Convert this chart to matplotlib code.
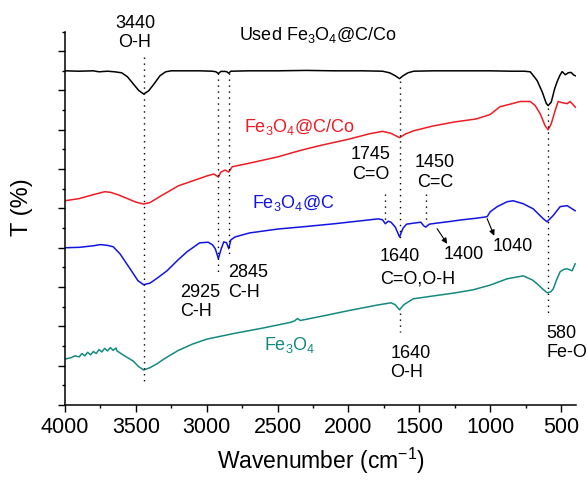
import matplotlib.pyplot as plt
from matplotlib.ticker import MultipleLocator

plt.rcParams['font.family'] = ['Liberation Sans', 'DejaVu Sans']
plt.rcParams['mathtext.fontset'] = 'custom'
plt.rcParams['mathtext.rm'] = 'Liberation Sans'
plt.rcParams['mathtext.it'] = 'Liberation Sans:italic'
plt.rcParams['mathtext.default'] = 'regular'

# Data (wavenumber in cm-1, transmittance with vertical offsets, arbitrary units)
wn_used = [4000, 3900, 3800, 3760, 3700, 3650, 3600, 3560, 3520, 3480,
           3445, 3410, 3370, 3330, 3290, 3250, 3150, 3050, 2960, 2935,
           2918, 2900, 2870, 2858, 2845, 2830, 2700, 2500, 2300, 2100,
           1900, 1760, 1710, 1670, 1640, 1615, 1580, 1540, 1400, 1200,
           1000, 850, 760, 718, 690, 669, 634, 605, 592, 570,
           545, 528, 510, 493, 470, 450, 430, 410, 400]
t_used = [17.0, 16.98, 17.0, 16.95, 16.98, 16.95, 16.9, 16.7, 16.35, 16.0,
          15.82, 15.98, 16.35, 16.75, 16.95, 17.0, 17.0, 17.0, 16.98, 16.95,
          16.86, 16.97, 16.97, 16.95, 16.88, 16.98, 17.0, 17.0, 17.02, 17.0,
          17.0, 16.98, 16.9, 16.75, 16.6, 16.75, 16.9, 16.98, 17.0, 17.0,
          17.0, 16.98, 16.98, 16.95, 16.7, 16.5, 15.94, 15.35, 15.23, 15.4,
          16.1, 16.45, 16.75, 16.96, 16.8, 16.9, 16.92, 16.78, 16.75]

wn_cco = [4000, 3900, 3800, 3720, 3680, 3620, 3560, 3500, 3445, 3400,
          3320, 3200, 3100, 3000, 2950, 2918, 2900, 2870, 2845, 2820,
          2700, 2500, 2345, 2200, 2000, 1850, 1760, 1700, 1640, 1600,
          1540, 1400, 1250, 1100, 1000, 930, 860, 789, 718, 683,
          648, 613, 592, 570, 542, 521, 493, 457, 436, 400]
t_cco = [10.39, 10.5, 10.7, 10.85, 10.82, 10.68, 10.5, 10.32, 10.22, 10.3,
         10.65, 11.15, 11.4, 11.65, 11.75, 11.6, 11.85, 11.95, 11.85, 12.12,
         12.3, 12.62, 12.94, 13.2, 13.52, 13.8, 13.92, 13.82, 13.6, 13.78,
         13.95, 14.2, 14.4, 14.55, 14.78, 15.18, 15.3, 15.44, 15.44, 15.23,
         14.82, 14.21, 14.0, 14.3, 14.98, 15.44, 15.38, 15.33, 15.44, 15.15]

wn_c = [4000, 3900, 3800, 3750, 3700, 3660, 3612, 3541, 3485, 3445,
        3400, 3350, 3280, 3200, 3140, 3050, 2990, 2960, 2940, 2918,
        2900, 2880, 2860, 2845, 2830, 2800, 2700, 2500, 2300, 2100,
        1900, 1790, 1760, 1740, 1720, 1700, 1670, 1640, 1615, 1590,
        1540, 1490, 1470, 1455, 1430, 1380, 1300, 1200, 1100, 1050,
        1022, 1000, 951, 881, 839, 768, 697, 627, 599, 557,
        507, 457, 401]
t_c = [8.0, 8.02, 8.1, 8.16, 8.12, 8.05, 7.69, 6.93, 6.32, 6.12,
       6.2, 6.45, 6.83, 7.4, 7.79, 8.25, 8.28, 8.15, 7.95, 7.45,
       7.9, 8.3, 8.25, 7.95, 8.4, 8.55, 8.75, 8.95, 9.08, 9.22,
       9.38, 9.47, 9.42, 9.22, 9.35, 9.3, 9.05, 8.55, 9.0, 9.2,
       9.25, 9.3, 9.12, 9.05, 9.2, 9.25, 9.32, 9.42, 9.5, 9.55,
       9.58, 9.83, 10.09, 10.34, 10.39, 10.24, 9.98, 9.48, 9.32, 9.63,
       10.09, 10.14, 9.88]

wn_fe = [4000, 3960, 3930, 3900, 3880, 3860, 3840, 3820, 3800, 3780,
         3760, 3740, 3720, 3700, 3680, 3660, 3640, 3633, 3580, 3520,
         3480, 3445, 3400, 3350, 3300, 3200, 3100, 3000, 2800, 2600,
         2412, 2380, 2360, 2340, 2200, 2000, 1800, 1700, 1670, 1640,
         1610, 1544, 1400, 1250, 1121, 1000, 881, 767, 700, 669,
         630, 599, 575, 556, 530, 507, 480, 457, 440, 422,
         401]
t_fe = [2.34, 2.4, 2.5, 2.45, 2.62, 2.5, 2.68, 2.55, 2.72, 2.62,
        2.82, 2.7, 2.88, 2.75, 2.92, 2.78, 2.9, 2.75, 2.5, 2.24,
        1.95, 1.78, 1.9, 2.1, 2.35, 2.78, 3.1, 3.35, 3.65, 3.92,
        4.2, 4.28, 4.4, 4.3, 4.5, 4.8, 5.08, 5.2, 5.1, 4.84,
        5.1, 5.4, 5.55, 5.7, 5.86, 6.1, 6.42, 6.57, 6.35, 6.16,
        5.9, 5.71, 5.75, 5.9, 6.4, 6.78, 6.9, 6.93, 6.88, 6.83,
        7.18]

black = 'black'
red = '#ec1c24'
blue = '#1414e0'
teal = '#14897f'

fig = plt.figure(figsize=(5.87, 4.85), dpi=100)
ax = fig.add_axes([65 / 587, 79 / 485, 511 / 587, 373.5 / 485])

ax.plot(wn_used, t_used, color=black, lw=1.1)
ax.plot(wn_cco, t_cco, color=red, lw=1.1)
ax.plot(wn_c, t_c, color=blue, lw=1.1)
ax.plot(wn_fe, t_fe, color=teal, lw=1.1)

# dotted guide lines
dot = dict(color='black', lw=1.0, ls=(0, (1, 3.3)))
ax.plot([3445, 3445], [17.68, 1.17], **dot)
ax.plot([2918, 2918], [16.9, 6.6], **dot)
ax.plot([2845, 2845], [16.9, 7.7], **dot)
ax.plot([1640, 1640], [16.5, 8.45], **dot)
ax.plot([1640, 1640], [4.7, 3.72], **dot)
ax.plot([592, 592], [15.1, 4.48], **dot)
ax.plot([1740, 1740], [10.75, 9.37], **dot)
ax.plot([1455, 1455], [10.75, 9.22], **dot)

arr = dict(arrowstyle='-|>', color='black', lw=0.8, mutation_scale=8,
           shrinkA=0, shrinkB=0)
ax.annotate('', xy=(1304, 8.2), xytext=(1375, 8.97), arrowprops=arr)
ax.annotate('', xy=(972, 8.61), xytext=(1022, 9.48), arrowprops=arr)

fs = 13
ax.text(3506, 18.98, '3440\nO-H', ha='center', va='center', fontsize=fs)
ax.text(2215, 18.85, 'Used Fe$_3$O$_4$@C/Co', ha='center', va='center', fontsize=fs)
ax.text(2349, 14.2, 'Fe$_3$O$_4$@C/Co', ha='center', va='center', fontsize=fs, color=red)
ax.text(1841, 12.28, '1745\nC=O', ha='center', va='center', fontsize=fs)
ax.text(1389, 11.87, '1450\nC=C', ha='center', va='center', fontsize=fs)
ax.text(2391, 10.34, 'Fe$_3$O$_4$@C', ha='center', va='center', fontsize=fs, color=blue)
ax.text(3188, 5.3, '2925\nC-H', ha='left', va='center', fontsize=fs)
ax.text(2850, 6.27, '2845\nC-H', ha='left', va='center', fontsize=fs)
ax.text(1777, 7.6, '1640', ha='left', va='center', fontsize=fs)
ax.text(1777, 6.45, 'C=O,O-H', ha='left', va='center', fontsize=fs)
ax.text(1332, 7.72, '1400', ha='left', va='center', fontsize=fs)
ax.text(980, 8.1, '1040', ha='left', va='center', fontsize=fs)
ax.text(2412, 3.11, 'Fe$_3$O$_4$', ha='center', va='center', fontsize=fs, color=teal)
ax.text(1706, 2.19, '1640\nO-H', ha='left', va='center', fontsize=fs)
ax.text(605, 3.21, '580\nFe-O', ha='left', va='center', fontsize=fs)

ax.set_xlim(4000, 395)
ax.set_ylim(0, 19)
ax.xaxis.set_major_locator(MultipleLocator(500))
ax.xaxis.set_minor_locator(MultipleLocator(250))
ax.yaxis.set_major_locator(MultipleLocator(2))
ax.yaxis.set_minor_locator(MultipleLocator(1))
ax.set_yticklabels([])
ax.tick_params(which='major', length=5, width=1, labelsize=15.5, pad=3)
ax.tick_params(which='minor', length=2.5, width=1)
ax.spines['top'].set_visible(False)
ax.spines['right'].set_visible(False)
for s in ['left', 'bottom']:
    ax.spines[s].set_linewidth(1.1)

fig.text(320.5 / 587, 1 - 469 / 485, 'Wavenumber (cm$^{-1}$)', ha='center',
         va='baseline', fontsize=16.5)
fig.text(22 / 587, 1 - 207 / 485, 'T (%)', rotation=90, ha='center',
         va='center', fontsize=17)

fig.savefig('out.png', dpi=100)
